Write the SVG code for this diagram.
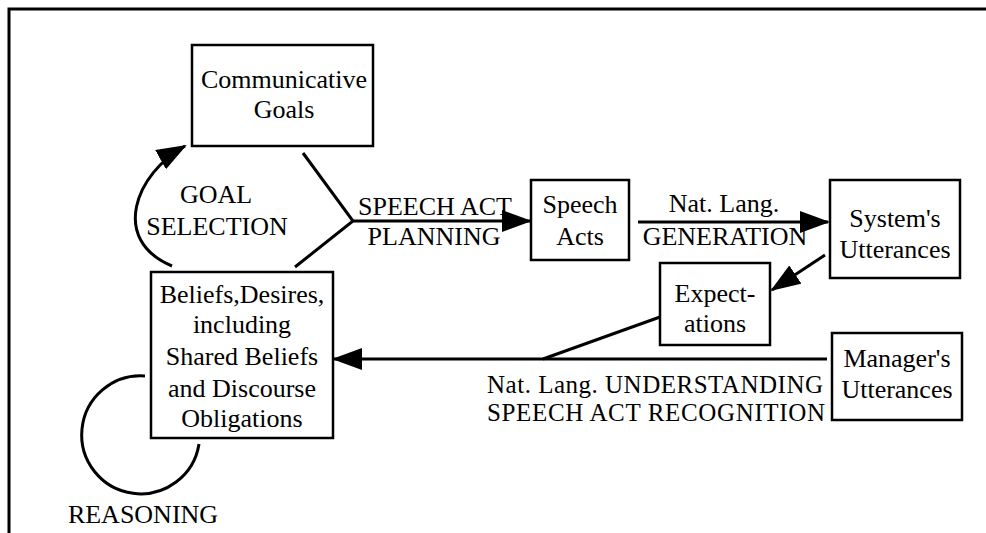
<svg xmlns="http://www.w3.org/2000/svg" width="986" height="533" viewBox="0 0 986 533">
<style>
.box{fill:none;stroke:#000;stroke-width:2.5}
.ln{fill:none;stroke:#000;stroke-width:3}
text{font-family:"Liberation Serif","Times New Roman",serif;font-size:26px;fill:#000}
.c{text-anchor:middle}
.s{font-size:25px}
</style>
<defs>
<marker id="ah" markerUnits="userSpaceOnUse" markerWidth="30" markerHeight="22" refX="28" refY="11" orient="auto">
<path d="M0,0 L30,11 L0,22 Z" fill="#000"/>
</marker>
</defs>
<rect width="986" height="533" fill="#fff"/>
<path class="ln" d="M9,533 V9 H986"/>
<g id="connectors">
<path class="ln" d="M172,266 C110,240 135,174 185,146" marker-end="url(#ah)"/>
<path class="ln" d="M303,153 L353,221 L295,267"/>
<line class="ln" x1="353" y1="221" x2="530" y2="221" marker-end="url(#ah)"/>
<line class="ln" x1="638" y1="222" x2="828" y2="222" marker-end="url(#ah)"/>
<line class="ln" x1="825" y1="255" x2="772" y2="290" marker-end="url(#ah)"/>
<path class="ln" d="M660,317 L543,359"/>
<line class="ln" x1="827" y1="359" x2="334" y2="359" marker-end="url(#ah)"/>
<path class="ln" d="M145,376 A59 59 0 1 0 199,444"/>
</g>
<g id="labels">
<text class="c" x="216" y="203">GOAL</text>
<text class="c" x="217" y="235">SELECTION</text>
<text class="c" x="435" y="215">SPEECH ACT</text>
<text class="c" x="434" y="245">PLANNING</text>
<text class="c" x="724" y="212">Nat. Lang.</text>
<text class="c" x="725" y="245">GENERATION</text>
<text class="s" x="487" y="393" textLength="336" lengthAdjust="spacing">Nat. Lang. UNDERSTANDING</text>
<text class="s" x="487" y="421" textLength="338" lengthAdjust="spacing">SPEECH ACT RECOGNITION</text>
<text class="c" x="143" y="523">REASONING</text>
</g>
<g id="communicative-goals">
<rect class="box" x="192" y="45" width="181" height="101"/>
<text class="c" x="284" y="88">Communicative</text>
<text class="c" x="284" y="118">Goals</text>
</g>
<g id="speech-acts">
<rect class="box" x="531" y="180" width="98" height="80"/>
<text class="c" x="580" y="213">Speech</text>
<text class="c" x="580" y="245">Acts</text>
</g>
<g id="systems-utterances">
<rect class="box" x="830" y="180" width="130" height="98"/>
<text class="c" x="895" y="227">System's</text>
<text class="c" x="895" y="258">Utterances</text>
</g>
<g id="expectations">
<rect class="box" x="660" y="263" width="110" height="82"/>
<text class="c" x="715" y="302">Expect-</text>
<text class="c" x="715" y="332">ations</text>
</g>
<g id="managers-utterances">
<rect class="box" x="832" y="333" width="130" height="87"/>
<text class="c" x="897" y="367">Manager's</text>
<text class="c" x="897" y="398">Utterances</text>
</g>
<g id="beliefs">
<rect class="box" x="151" y="272" width="182" height="166"/>
<text class="c" x="242" y="303">Beliefs,Desires,</text>
<text class="c" x="242" y="333">including</text>
<text class="c" x="242" y="365">Shared Beliefs</text>
<text class="c" x="242" y="397">and Discourse</text>
<text class="c" x="242" y="427">Obligations</text>
</g>
</svg>
